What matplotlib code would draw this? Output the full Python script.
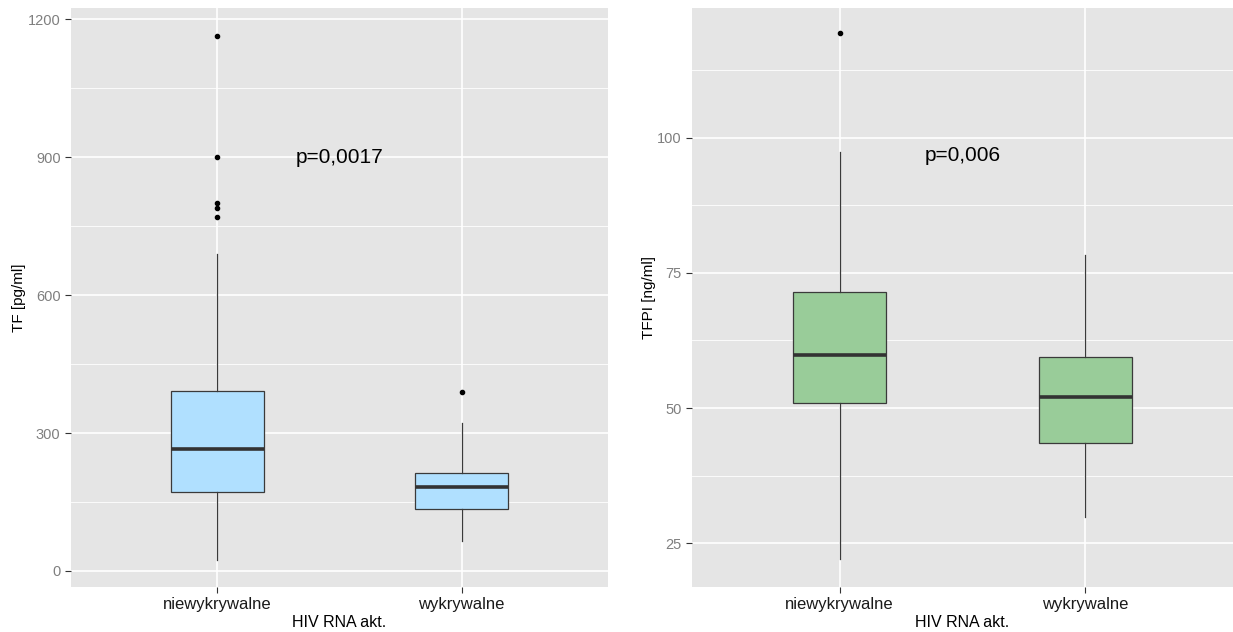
import matplotlib.pyplot as plt
import numpy as np

plt.rcParams['font.family'] = ['Liberation Sans', 'DejaVu Sans']

groups = ['niewykrywalne', 'wykrywalne']
x_title = 'HIV RNA akt.'

# TF [pg/ml]: whisker low, Q1, median, Q3, whisker high, outliers
tf_low = [23, 65]
tf_q1 = [171, 135]
tf_med = [265, 182]
tf_q3 = [391, 213]
tf_high = [689, 322]
tf_out = [[770, 790, 800, 900, 1165], [390]]

# TFPI [ng/ml]
tfpi_low = [22, 29.8]
tfpi_q1 = [50.9, 43.5]
tfpi_med = [59.8, 52]
tfpi_q3 = [71.5, 59.4]
tfpi_high = [97.4, 78.3]
tfpi_out = [[119.3], []]

tf_ticks = [0, 300, 600, 900, 1200]
tfpi_ticks = [25, 50, 75, 100]


def gg_box(ax, low, q1, med, q3, high, outliers, color, ylim, ticks, ylabel, ptext, py):
    stats = []
    for i in range(len(groups)):
        stats.append(dict(whislo=low[i], q1=q1[i], med=med[i], q3=q3[i],
                          whishi=high[i], fliers=outliers[i]))
    ax.set_facecolor('#E5E5E5')
    # ggplot-style minor grid halfway between the major ticks
    minor = [(a + b) / 2 for a, b in zip(ticks[:-1], ticks[1:])]
    minor = [ticks[0] - (ticks[1] - ticks[0]) / 2] + minor + [ticks[-1] + (ticks[1] - ticks[0]) / 2]
    for m in minor:
        ax.axhline(m, color='white', lw=0.6, zorder=0)
    for t in ticks:
        ax.axhline(t, color='white', lw=1.2, zorder=0)
    for i in range(len(groups)):
        ax.axvline(i + 1, color='white', lw=1.2, zorder=0)
    ax.bxp(stats, positions=[1, 2], widths=0.38, patch_artist=True, showcaps=False,
           boxprops=dict(facecolor=color, edgecolor='#3A3A3A', linewidth=0.9),
           whiskerprops=dict(color='#3A3A3A', linewidth=0.9),
           medianprops=dict(color='#333333', linewidth=2.6),
           flierprops=dict(marker='o', markerfacecolor='black', markeredgecolor='black',
                           markersize=3))
    ax.set_xlim(0.4, 2.6)
    ax.set_ylim(*ylim)
    ax.set_yticks(ticks)
    ax.set_xticks([1, 2])
    ax.set_xticklabels(groups, fontsize=12, color='#1A1A1A')
    ax.tick_params(axis='y', labelsize=10.5, labelcolor='#7F7F7F', color='#333333', length=4)
    ax.tick_params(axis='x', color='#333333', length=4)
    for s in ax.spines.values():
        s.set_visible(False)
    ax.set_xlabel(x_title, fontsize=11.5, labelpad=2)
    ax.set_ylabel(ylabel, fontsize=11, labelpad=1)
    ax.text(1.5, py, ptext, ha='center', va='center', fontsize=15)


fig = plt.figure(figsize=(12.33, 6.32), dpi=100)
ax1 = fig.add_axes([71 / 1233, 1 - 587 / 632, 537 / 1233, 579 / 632])
ax2 = fig.add_axes([692 / 1233, 1 - 587 / 632, 541 / 1233, 579 / 632])

gg_box(ax1, tf_low, tf_q1, tf_med, tf_q3, tf_high, tf_out, '#B0E0FF',
       (-35, 1225), tf_ticks, 'TF [pg/ml]', 'p=0,0017', 900)
gg_box(ax2, tfpi_low, tfpi_q1, tfpi_med, tfpi_q3, tfpi_high, tfpi_out, '#99CC99',
       (16.9, 124), tfpi_ticks, 'TFPI [ng/ml]', 'p=0,006', 96.8)

fig.savefig('out.png', dpi=100)
